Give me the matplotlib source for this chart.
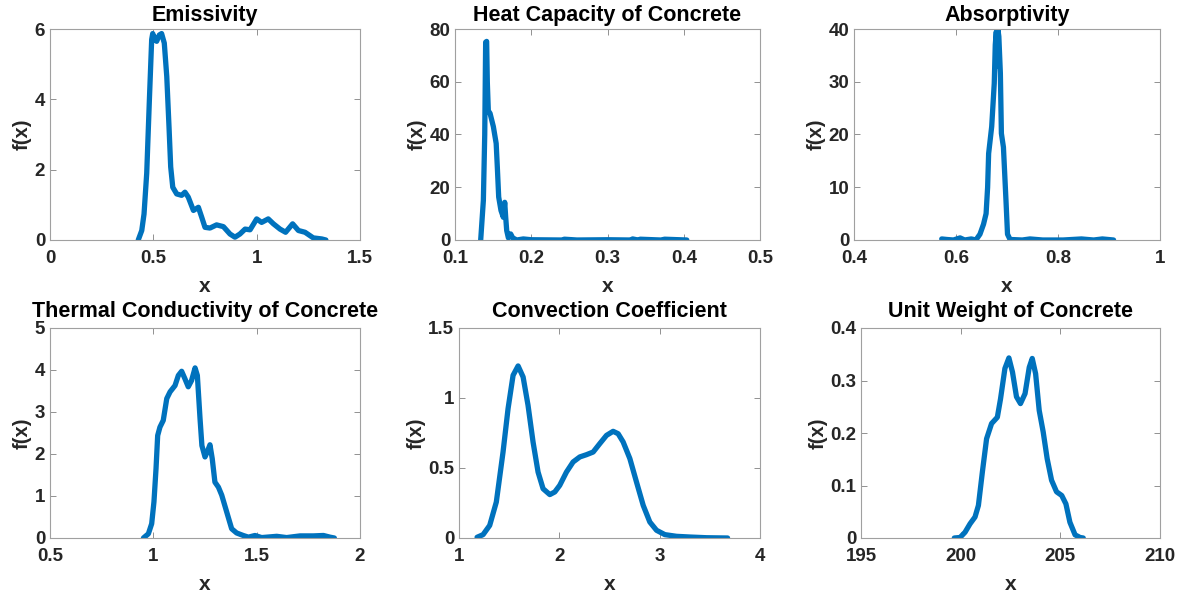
import numpy as np
import matplotlib.pyplot as plt

plt.rcParams['font.family'] = ['Liberation Sans', 'DejaVu Sans']
plt.rcParams['font.weight'] = 'bold'

# traced density curves for each input variable
emis_x = [0.427, 0.444, 0.455, 0.468, 0.481, 0.492, 0.497, 0.508, 0.516, 0.529, 0.540,
          0.553, 0.565, 0.576, 0.584, 0.594, 0.613, 0.637, 0.653, 0.669, 0.694, 0.718,
          0.734, 0.750, 0.774, 0.806, 0.839, 0.871, 0.895, 0.919, 0.944, 0.968, 1.000,
          1.024, 1.056, 1.081, 1.113, 1.140, 1.174, 1.202, 1.234, 1.274, 1.315, 1.335]
emis_y = [0.0, 0.27, 0.74, 1.9, 4.0, 5.7, 5.87, 5.7, 5.65, 5.83, 5.87,
          5.6, 4.65, 3.2, 2.08, 1.5, 1.31, 1.27, 1.36, 1.22, 0.84, 0.93,
          0.65, 0.36, 0.34, 0.43, 0.38, 0.17, 0.08, 0.17, 0.31, 0.29, 0.6,
          0.5, 0.6, 0.46, 0.31, 0.22, 0.46, 0.27, 0.22, 0.06, 0.03, 0.0]

heat_x = [0.1337, 0.1372, 0.139, 0.1402, 0.1415, 0.1424, 0.1437, 0.146, 0.1503, 0.154,
          0.1555, 0.1573, 0.1603, 0.1634, 0.1652, 0.1665, 0.1678, 0.170, 0.173, 0.1757,
          0.181, 0.1896, 0.200, 0.240, 0.2435, 0.260, 0.300, 0.330, 0.333, 0.340, 0.343,
          0.370, 0.375, 0.404]
heat_y = [0.0, 15.0, 40.0, 75.0, 75.3, 59.7, 49.0, 48.0, 43.0, 36.6,
          27.7, 16.3, 11.2, 8.6, 14.3, 8.6, 3.6, 0.8, 2.3, 0.8,
          0.0, 0.4, 0.1, 0.0, 0.3, 0.0, 0.1, 0.0, 0.4, 0.0, 0.3,
          0.0, 0.3, 0.0]

abs_x = [0.572, 0.582, 0.595, 0.608, 0.617, 0.630, 0.639, 0.647, 0.654, 0.659, 0.662,
         0.664, 0.670, 0.675, 0.677, 0.679, 0.6805, 0.682, 0.684, 0.687, 0.689, 0.693,
         0.698, 0.701, 0.706, 0.730, 0.745, 0.770, 0.810, 0.846, 0.870, 0.887, 0.909]
abs_y = [0.2, 0.1, 0.0, 0.4, 0.0, 0.2, 0.0, 1.1, 3.0, 5.0, 10.0,
         16.4, 21.5, 29.7, 37.0, 39.5, 33.0, 40.0, 38.6, 31.6, 20.2, 17.6,
         7.5, 1.1, 0.1, 0.0, 0.2, 0.0, 0.0, 0.2, 0.0, 0.2, 0.0]

cond_x = [0.952, 0.976, 0.992, 1.003, 1.013, 1.021, 1.032, 1.048, 1.065, 1.081, 1.105,
          1.121, 1.137, 1.153, 1.169, 1.185, 1.202, 1.213, 1.226, 1.235, 1.250, 1.261,
          1.274, 1.285, 1.298, 1.315, 1.331, 1.355, 1.379, 1.403, 1.435, 1.460, 1.492,
          1.524, 1.597, 1.645, 1.710, 1.774, 1.823, 1.855, 1.876]
cond_y = [0.0, 0.1, 0.34, 0.86, 1.65, 2.44, 2.64, 2.8, 3.32, 3.48, 3.63,
          3.87, 3.97, 3.79, 3.6, 3.75, 4.05, 3.87, 2.84, 2.2, 1.93, 2.05,
          2.22, 1.89, 1.33, 1.21, 1.02, 0.62, 0.22, 0.12, 0.06, 0.02, 0.06,
          0.01, 0.04, 0.01, 0.05, 0.05, 0.06, 0.02, 0.0]

conv_x = [1.18, 1.24, 1.306, 1.372, 1.439, 1.489, 1.539, 1.589, 1.639, 1.688, 1.738,
          1.788, 1.838, 1.905, 1.955, 2.004, 2.071, 2.137, 2.204, 2.27, 2.337, 2.403,
          2.47, 2.536, 2.586, 2.636, 2.703, 2.769, 2.836, 2.902, 2.969, 3.052, 3.168,
          3.301, 3.468, 3.677]
conv_y = [0.005, 0.024, 0.09, 0.257, 0.614, 0.924, 1.162, 1.229, 1.15, 0.948, 0.686,
          0.471, 0.352, 0.31, 0.329, 0.376, 0.471, 0.543, 0.579, 0.595, 0.614, 0.674,
          0.733, 0.762, 0.745, 0.686, 0.567, 0.4, 0.233, 0.114, 0.055, 0.024, 0.012,
          0.007, 0.002, 0.0]

unit_x = [199.68, 199.97, 200.22, 200.47, 200.72, 200.89, 201.09, 201.3, 201.55, 201.84,
          202.0, 202.22, 202.42, 202.6, 202.8, 203.0, 203.23, 203.44, 203.59, 203.76,
          203.94, 204.14, 204.34, 204.56, 204.81, 205.07, 205.28, 205.48, 205.74, 205.99,
          206.15]
unit_y = [0.0, 0.001, 0.011, 0.027, 0.04, 0.062, 0.126, 0.189, 0.218, 0.23,
          0.265, 0.323, 0.343, 0.316, 0.269, 0.256, 0.275, 0.325, 0.342, 0.313,
          0.243, 0.202, 0.151, 0.11, 0.088, 0.081, 0.065, 0.03, 0.006, 0.001,
          0.0]

titles = ['Emissivity', 'Heat Capacity of Concrete', 'Absorptivity',
          'Thermal Conductivity of Concrete', 'Convection Coefficient', 'Unit Weight of Concrete']
curves = [(emis_x, emis_y), (heat_x, heat_y), (abs_x, abs_y),
          (cond_x, cond_y), (conv_x, conv_y), (unit_x, unit_y)]
xlims = [(0, 1.5), (0.1, 0.5), (0.4, 1.0), (0.5, 2.0), (1, 4), (195, 210)]
ylims = [(0, 6), (0, 80), (0, 40), (0, 5), (0, 1.5), (0, 0.4)]
xticks = [[0, 0.5, 1, 1.5], [0.1, 0.2, 0.3, 0.4, 0.5], [0.4, 0.6, 0.8, 1],
          [0.5, 1, 1.5, 2], [1, 2, 3, 4], [195, 200, 205, 210]]
yticks = [[0, 2, 4, 6], [0, 20, 40, 60, 80], [0, 10, 20, 30, 40],
          [0, 1, 2, 3, 4, 5], [0, 0.5, 1, 1.5], [0, 0.1, 0.2, 0.3, 0.4]]

W, H = 1180, 594
# axes boxes in pixels: left, top, right, bottom
boxes = [(50, 29, 360, 240), (455, 29, 760, 240), (854, 29, 1160, 240),
         (50, 328, 360, 538), (459, 328, 760, 538), (861, 328, 1160, 538)]

fig = plt.figure(figsize=(W / 100, H / 100), dpi=100)
text_col = '#262626'

for i in range(6):
    l, t, r, b = boxes[i]
    ax = fig.add_axes([l / W, 1 - b / H, (r - l) / W, (b - t) / H])
    x, y = curves[i]
    ax.plot(x, y, color='#0072BD', lw=3.8, solid_joinstyle='round', solid_capstyle='round')
    ax.set_xlim(*xlims[i])
    ax.set_ylim(*ylims[i])
    ax.set_xticks(xticks[i])
    ax.set_yticks(yticks[i])
    ax.set_xticklabels([f'{v:g}' for v in xticks[i]])
    ax.set_yticklabels([f'{v:g}' for v in yticks[i]])
    ax.tick_params(direction='in', top=True, right=True, length=4, width=0.6,
                   color='#808080', labelsize=13.5, labelcolor=text_col)
    ax.tick_params(axis='x', pad=7.5)
    ax.tick_params(axis='y', pad=3.5)
    for lab in ax.get_xticklabels() + ax.get_yticklabels():
        lab.set_fontweight('bold')
    for s in ax.spines.values():
        s.set_color('#a0a0a0')
        s.set_linewidth(0.8)
    ax.set_title(titles[i], fontsize=15.5, fontweight='bold', color='#000000',
                 pad=6 if i < 3 else 8)
    ax.set_xlabel('x', fontsize=15, fontweight='bold', color=text_col, labelpad=7)
    ax.set_ylabel('f(x)', fontsize=14.5, fontweight='bold', color=text_col, labelpad=2)

fig.savefig('out.png', dpi=100)
